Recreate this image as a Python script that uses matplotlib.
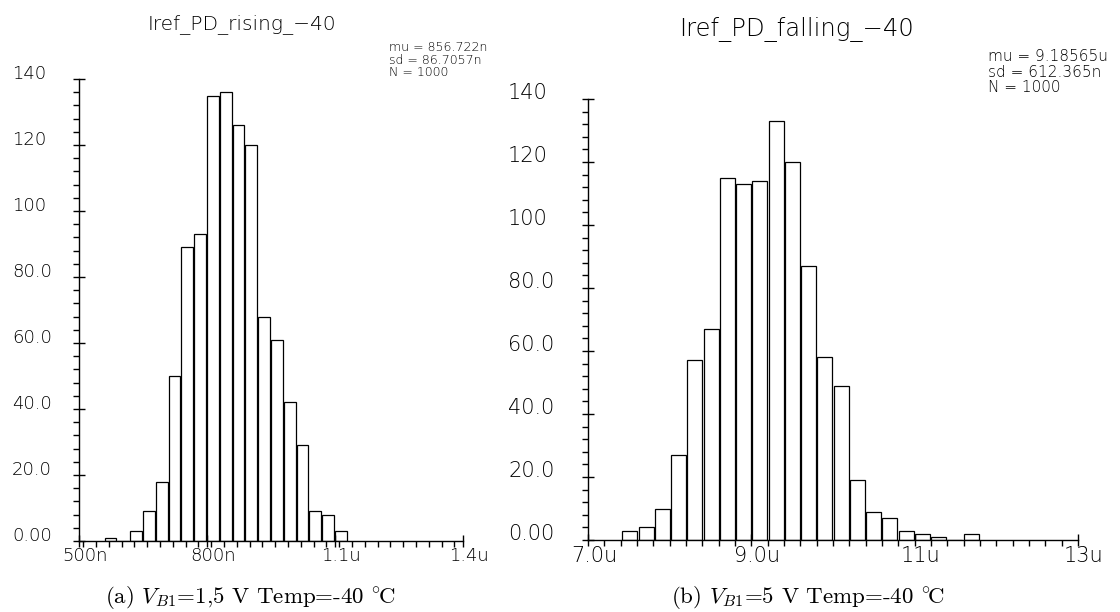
import matplotlib
matplotlib.use('Agg')
import matplotlib.pyplot as plt
import matplotlib.ticker as ticker
import matplotlib.transforms as mtransforms
import numpy as np

# histograma (a): Iref_PD_rising_-40, eixo x em nA
rise_start = 559.0
rise_width = 30.0
rise_counts = [1, 0, 3, 9, 18, 50, 89, 93, 135, 136, 126, 120, 68, 61, 42, 29, 9, 8, 3]
rise_xticks = [500, 800, 1100, 1400]
rise_xlabels = ['500n', '800n', '1.1u', '1.4u']

# histograma (b): Iref_PD_falling_-40, eixo x em uA
fall_start = 7.414
fall_width = 0.199
fall_counts = [3, 4, 10, 27, 57, 67, 115, 113, 114, 133, 120, 87, 58, 49, 19, 9, 7, 3, 2, 1, 0, 2]
fall_xticks = [7, 9, 11, 13]
fall_xlabels = ['7.0u', '9.0u', '11u', '13u']

yticks = [0, 20, 40, 60, 80, 100, 120, 140]
ylabels = ['0.00', '20.0', '40.0', '60.0', '80.0', '100', '120', '140']

titles = ['Iref_PD_rising_\u221240', 'Iref_PD_falling_\u221240']
stats = ['mu = 856.722n\nsd = 86.7057n\nN = 1000',
         'mu = 9.18565u\nsd = 612.365n\nN = 1000']
captions = [r'(a) $V_{B1}$=1,5 V Temp=-40 $^{\circ}\!$C',
            r'(b) $V_{B1}$=5 V Temp=-40 $^{\circ}\!$C']

plt.rcParams['mathtext.fontset'] = 'cm'

W, H = 1120, 612
fig = plt.figure(figsize=(W / 100, H / 100), dpi=100)


def eixo(x0, x1, ybot, ytop):
    return fig.add_axes([x0 / W, 1 - ybot / H, (x1 - x0) / W, (ybot - ytop) / H])


def histograma(ax, start, width, counts, xticks, xlabels, xminor, fs, lab_x):
    counts = np.array(counts)
    centers = start + width * (np.arange(len(counts)) + 0.5)
    ax.bar(centers, counts, width=width * 0.92, facecolor='white',
           edgecolor='black', linewidth=0.9)
    ax.set_xlim(xticks[0], xticks[-1])
    ax.set_ylim(0, 140)
    for s in ['top', 'right']:
        ax.spines[s].set_visible(False)
    for s in ['left', 'bottom']:
        ax.spines[s].set_linewidth(1.0)
    ax.set_xticks(xticks)
    ax.set_xticklabels(xlabels, fontsize=fs, fontweight='light')
    ax.xaxis.set_minor_locator(ticker.MultipleLocator(xminor))
    ax.set_yticks(yticks)
    ax.set_yticklabels([])
    ax.yaxis.set_minor_locator(ticker.MultipleLocator(4))
    ax.tick_params(axis='x', which='major', direction='inout', length=9, width=1, pad=0)
    ax.tick_params(axis='x', which='minor', direction='out', length=4, width=1)
    ax.tick_params(axis='y', which='major', direction='inout', length=8, width=1)
    ax.tick_params(axis='y', which='minor', direction='out', length=4, width=1)
    ax.tick_params(axis='y', which='both', left=True, labelleft=False)
    desloc = mtransforms.ScaledTranslation(6 / 100, 0, fig.dpi_scale_trans)
    for lab in ax.get_xticklabels():
        lab.set_transform(lab.get_transform() + desloc)
    # rotulos do eixo y alinhados a esquerda, apoiados sobre o tick
    trans = mtransforms.blended_transform_factory(fig.transFigure, ax.transData)
    for v, t in zip(yticks, ylabels):
        ax.text(lab_x / W, v, t, transform=trans, ha='left', va='baseline',
                fontsize=fs, fontweight='light')


ax1 = eixo(79, 463, 541, 79)
histograma(ax1, rise_start, rise_width, rise_counts, rise_xticks, rise_xlabels,
           30, 13, 12)
ax2 = eixo(588, 1078, 540, 99)
histograma(ax2, fall_start, fall_width, fall_counts, fall_xticks, fall_xlabels,
           0.2, 15, 508)

fig.text(242 / W, 1 - 29 / H, titles[0], ha='center', va='baseline',
         fontsize=14.5, fontweight='light')
fig.text(797 / W, 1 - 36 / H, titles[1], ha='center', va='baseline',
         fontsize=17.5, fontweight='light')

fig.text(389 / W, 1 - 41 / H, stats[0], ha='left', va='top',
         fontsize=9, linespacing=1.05, fontweight='light')
fig.text(988 / W, 1 - 49 / H, stats[1], ha='left', va='top',
         fontsize=11, linespacing=1.05, fontweight='light')

fig.text(250 / W, 1 - 603 / H, captions[0], ha='center', va='baseline',
         fontsize=16.5, family=['cmr10', 'DejaVu Serif'])
fig.text(808 / W, 1 - 603 / H, captions[1], ha='center', va='baseline',
         fontsize=16.5, family=['cmr10', 'DejaVu Serif'])

fig.savefig('out.png', dpi=100, facecolor='white')
